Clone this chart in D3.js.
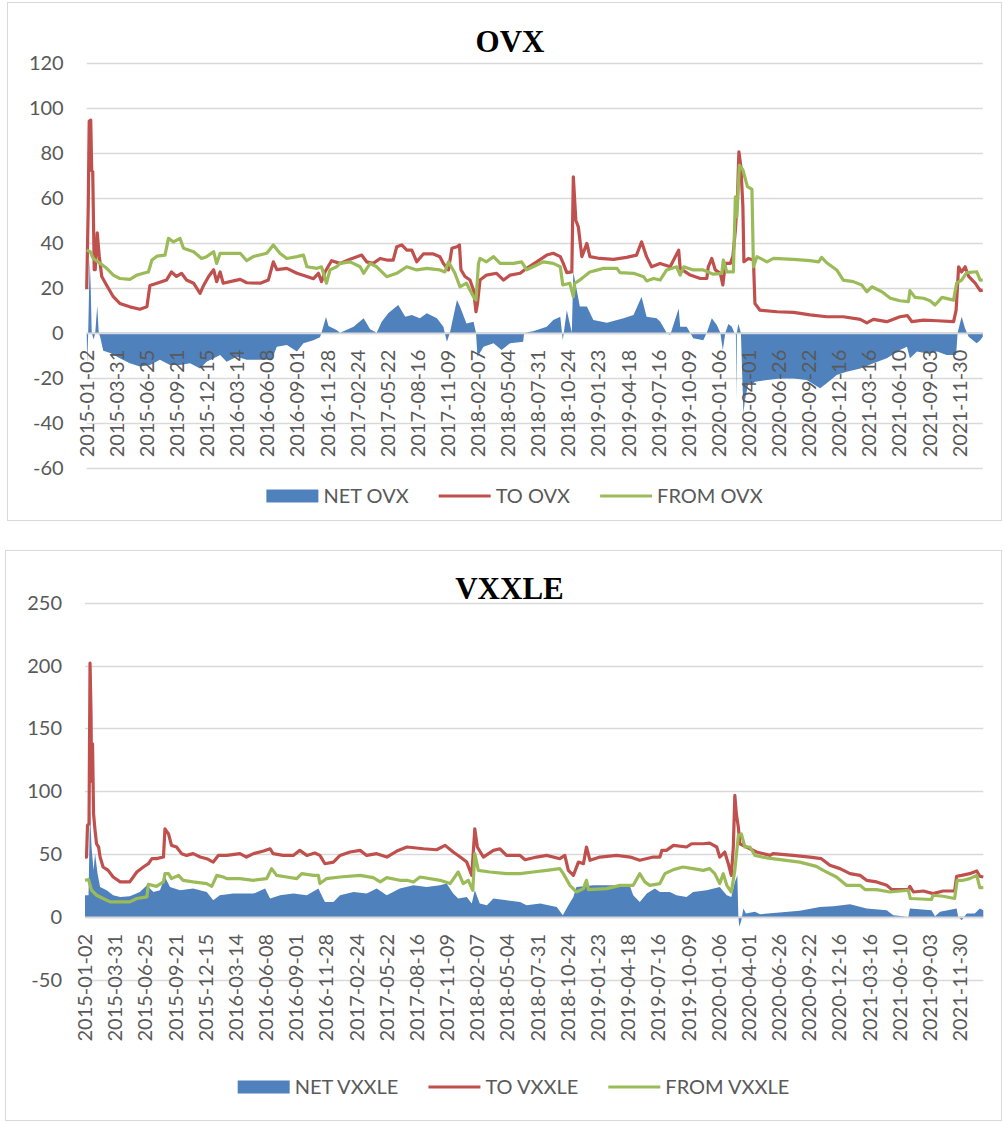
<!DOCTYPE html>
<html>
<head>
<meta charset="utf-8">
<script src="https://cdn.jsdelivr.net/npm/d3@7"></script>
<style>
  body { margin: 0; background: #fff; }
  svg { display: block; }
</style>
</head>
<body>
<svg id="chart" width="1003" height="1122"></svg>
<script>
// category labels on the x axis (one every 60 trading days)
var dateLabels = ["2015-01-02","2015-03-31","2015-06-25","2015-09-21","2015-12-15","2016-03-14",
  "2016-06-08","2016-09-01","2016-11-28","2017-02-24","2017-05-22","2017-08-16","2017-11-09",
  "2018-02-07","2018-05-04","2018-07-31","2018-10-24","2019-01-23","2019-04-18","2019-07-16",
  "2019-10-09","2020-01-06","2020-04-01","2020-06-26","2020-09-22","2020-12-16","2021-03-16",
  "2021-06-10","2021-09-03","2021-11-30"];
var labelStep = 60;
var lastDay = 1786;

var ovxTicks = [-60, -40, -20, 0, 20, 40, 60, 80, 100, 120];
var vxxTicks = [-50, 0, 50, 100, 150, 200, 250];

// [trading day index, value]
var ovxNet = [[0,0],[1,-14],[3,0],[6,33],[8,20],[10,0],[14,-3],[17,0],[21,12],[24,0],[27,-2],[33,-8],
  [47,-9],[66,-11.4],[86,-13.6],[106,-15],[126,-14.4],[146,-12],[166,-14.4],[186,-14.4],[206,-13.6],
  [226,-15.9],[239,-12.9],[266,-9.9],[279,-12.9],[299,-10.7],[319,-12],[346,-12],[369,-11.9],[379,-6.2],
  [399,-5.5],[419,-8.4],[432,-4.7],[452,-3.3],[465,-2],[468,0],[477,7],[482,3],[498,1.2],[505,0],
  [532,2.7],[552,6.4],[565,1.5],[578,0],[588,4.9],[601,8.6],[621,12.3],[635,7.1],[648,7.9],[664,6.4],
  [678,8.6],[698,6.4],[711,2.7],[718,-4],[724,0],[738,14.5],[744,11.6],[757,4.1],[771,4.9],[776,0],
  [779,-10.7],[791,-6.2],[811,-4.7],[827,-7.7],[844,-4.7],[870,-4],[872,0],[890,0.7],[917,2.7],[930,5.6],
  [944,7.1],[949,-3.3],[957,10],[967,0],[970,27],[983,11.6],[997,11.6],[1010,5.6],[1037,4.4],[1070,6.4],
  [1090,7.9],[1106,16],[1116,7.1],[1136,6.4],[1143,5],[1156,0],[1163,-1],[1180,10.8],[1183,2.7],
  [1196,2.7],[1203,0],[1209,-2.5],[1229,-3.3],[1236,0],[1246,6.4],[1256,3.4],[1263,0],[1268,-7.7],
  [1273,0],[1279,3.9],[1286,2.7],[1291,0],[1294,0],[1295,-30],[1296,0],[1299,4],[1304,0],[1309,-36],
  [1312,-30],[1319,-22.5],[1329,-22.5],[1332,-21.8],[1356,-21],[1382,-20.3],[1409,-20.3],[1435,-21],
  [1462,-24.7],[1475,-22.5],[1495,-18.8],[1515,-17.3],[1542,-15.9],[1568,-13.6],[1595,-11.4],
  [1621,-7.7],[1635,-6.2],[1641,-11.4],[1655,-8.4],[1675,-9.2],[1695,-8.4],[1714,-9.9],[1733,-9.9],
  [1736,0],[1744,7.1],[1751,1.9],[1758,-1.8],[1774,-4.7],[1781,-3.3],[1786,-1.8]];

var ovxTo = [[0,19.3],[3,55],[5,94],[8,94.5],[10,72],[12,71.6],[15,28],[17,28],[21,44.4],[25,34],
  [30,25],[40,21],[53,16],[66,13],[86,11.5],[106,10.4],[120,11.5],[126,21],[140,22],[159,23.4],
  [169,27],[179,25],[189,26.4],[199,23.4],[213,22],[226,17.5],[233,21],[243,25],[253,28],[259,22.7],
  [266,27],[272,22],[286,22.7],[306,23.7],[319,22.2],[346,22],[362,23.4],[372,31.5],[379,28],[399,28.6],
  [419,26.4],[439,25],[452,24],[462,26.4],[468,22.7],[475,27],[488,32],[505,30.8],[525,32.6],
  [548,34.5],[558,31.5],[571,30.8],[585,33],[598,32.3],[611,32.3],[618,38.2],[628,39],[638,36.7],
  [648,36.7],[658,31.5],[671,35],[691,35],[704,33.8],[711,30.8],[721,27.9],[728,37.5],[738,38.2],
  [743,39],[746,28],[754,25],[764,23.4],[771,19],[776,9.3],[779,13],[784,23.4],[797,25.6],[817,26.4],
  [831,23.4],[844,25.6],[864,26.4],[877,28.6],[897,31.5],[917,34.5],[930,35.3],[944,33.8],[950,30.8],
  [957,26.7],[967,27],[970,69.3],[975,50],[980,47],[987,33.8],[997,39.7],[1003,33.8],[1023,33],
  [1050,32.6],[1076,33.5],[1096,34.5],[1106,40.4],[1116,33.8],[1126,29.3],[1143,30.8],[1163,29.3],
  [1180,36.7],[1183,28.6],[1203,25.6],[1223,24.1],[1236,24.1],[1239,29.3],[1246,33],[1253,27.9],
  [1263,26.4],[1268,21.2],[1273,30.8],[1283,30.8],[1288,33.8],[1293,45.6],[1297,59],[1300,80.4],
  [1304,73.8],[1308,56],[1310,31.5],[1319,33],[1329,32.3],[1332,13],[1342,10],[1376,9.3],[1409,9],
  [1442,7.9],[1475,7.1],[1508,7.1],[1542,5.9],[1555,4.4],[1568,5.9],[1595,4.9],[1621,7.1],[1636,7.6],
  [1645,4.9],[1668,5.6],[1695,5.3],[1728,4.9],[1733,10],[1738,29.3],[1744,27],[1751,29.3],[1758,25],
  [1771,22],[1781,18.7],[1786,19]];

var ovxFrom = [[0,36.7],[7,36],[13,33],[27,30.8],[40,28.6],[53,25.6],[66,24.1],[86,23.7],[100,25.6],
  [113,26.4],[123,27],[130,32.3],[140,34],[156,34.5],[163,41.9],[173,40.4],[186,41.9],[193,37.5],
  [213,36],[229,33],[239,33.8],[253,36],[259,30.8],[266,35.3],[286,35.3],[306,35.3],[319,32],
  [332,33.8],[359,35.3],[372,39],[385,35.3],[399,33],[419,33.8],[432,34.5],[439,29.3],[459,28.6],
  [468,29.3],[478,22],[485,27.9],[498,29.3],[505,30.8],[525,31.5],[545,29.3],[552,26.4],[565,30.8],
  [578,29.3],[598,24.9],[618,26.4],[638,29.3],[658,27.9],[678,28.6],[704,27.9],[714,27],[721,31.5],
  [734,26.4],[744,20.4],[757,22],[771,16],[776,14.5],[781,30.8],[784,33],[797,31.5],[811,33.8],
  [824,30.8],[851,30.8],[867,31.5],[877,27.9],[890,29.3],[910,31.5],[930,30.8],[944,29.3],[949,21.2],
  [963,22],[970,16],[973,22],[983,23.4],[1003,27],[1030,28.6],[1057,28.6],[1063,26.7],[1090,26.4],
  [1110,24.9],[1116,23],[1130,24.1],[1143,23.4],[1156,27.9],[1176,29.3],[1183,25.6],[1190,29.3],
  [1209,27.9],[1229,27.9],[1249,26],[1266,26.4],[1269,32.3],[1276,27],[1289,27],[1293,60.4],
  [1296,51.6],[1301,74.5],[1308,72.3],[1317,64.9],[1326,63.7],[1329,29.3],[1336,33.8],[1356,31.5],
  [1369,33],[1409,32.6],[1442,32],[1459,31.5],[1465,33.5],[1475,31.1],[1495,27.9],[1508,23.4],
  [1528,22.7],[1545,21.2],[1555,18.2],[1565,20.4],[1585,18.2],[1602,15.3],[1621,14.2],[1638,13.8],
  [1641,18.7],[1651,15.7],[1668,15.3],[1681,14.2],[1691,12.3],[1705,15.7],[1728,14.5],[1734,22],
  [1744,23.4],[1754,26.7],[1774,27.1],[1781,23.4],[1786,23.4]];

var vxxNet = [[0,17.2],[7,17.2],[10,84.7],[13,55.6],[17,37],[20,50.3],[25,34.4],[30,23.8],[43,21.2],
  [56,17.2],[70,15.9],[89,16.4],[109,19.8],[123,25.1],[136,19.8],[149,21.2],[159,31.7],[169,23.8],
  [189,21.2],[215,22.5],[242,19.8],[255,13.2],[268,17.2],[295,18.5],[335,18.5],[358,22.5],[368,14.6],
  [388,17.2],[414,18.5],[441,17.2],[464,22.5],[477,11.9],[494,11.9],[507,17.2],[534,19.8],[560,18.5],
  [580,22.5],[600,17.2],[626,22.5],[653,25.1],[679,23.8],[706,25.1],[719,26.5],[732,18.5],[742,14.6],
  [759,15.9],[769,10.6],[775,21.2],[785,10.6],[799,9.3],[812,14.6],[838,13.2],[865,11.9],[878,9.3],
  [905,10.6],[938,7.9],[950,1.3],[961,9.3],[971,15.9],[977,23.8],[1011,25.1],[1050,25.1],[1084,23.8],
  [1090,17.2],[1103,11.9],[1117,18.5],[1133,22.5],[1143,19.8],[1163,19.8],[1176,17.2],[1196,15.9],
  [1209,19.8],[1236,21.2],[1262,23.8],[1276,17.2],[1285,15.9],[1292,27.8],[1297,33],[1299,0],
  [1301,-7.9],[1305,-2.6],[1309,6.6],[1314,2.6],[1332,4],[1342,2.1],[1375,3.2],[1421,4.8],[1461,7.9],
  [1488,8.5],[1521,10],[1554,6.6],[1594,5.3],[1607,1.3],[1637,0],[1640,6.6],[1683,5.3],[1690,0.5],
  [1700,4],[1733,6.6],[1736,0],[1743,-2.6],[1753,2.6],[1769,2.6],[1779,6.6],[1786,5.3]];

var vxxTo = [[0,47.6],[3,47.6],[5,72.8],[8,74],[10,202],[12,161],[13,108],[15,137.6],[17,82],[20,68.8],
  [23,58],[27,55.6],[30,47.6],[36,39.7],[46,37],[56,31.7],[70,27.8],[89,27.8],[103,35.7],[116,39.7],
  [126,42.3],[133,46.3],[142,46.3],[156,47.6],[159,70],[166,66],[172,56.9],[182,55.6],[192,50.3],
  [202,48.9],[215,50.3],[229,47.6],[242,46.3],[255,43.6],[265,48.9],[282,48.9],[308,50.3],[321,47.6],
  [335,50.3],[355,52.4],[368,54.2],[374,50.3],[394,48.9],[414,48.9],[427,52.9],[441,48.9],[457,50.8],
  [467,48.9],[477,42.3],[494,43.6],[507,48.9],[527,51.6],[547,52.9],[560,48.9],[580,50.3],[600,47.6],
  [620,52.4],[640,55.6],[673,54.2],[699,53.4],[716,56.9],[732,51.6],[746,47.6],[759,43.6],[769,33],
  [775,70],[780,55.6],[792,47.6],[812,52.9],[825,54.2],[838,48.9],[865,48.9],[875,45.5],[898,47.6],
  [918,48.9],[944,46.3],[954,48.9],[961,37],[971,33],[981,43.6],[991,42.3],[997,55.6],[1004,45],
  [1024,47.6],[1057,48.9],[1084,47.6],[1103,45],[1130,47.6],[1143,47.6],[1147,53],[1156,52.9],
  [1170,56.9],[1196,55.6],[1206,58.2],[1229,58.2],[1242,58.7],[1256,55.6],[1262,47.6],[1272,51.6],
  [1279,42.3],[1285,33],[1289,55.6],[1292,96.6],[1295,82],[1299,71.4],[1302,58.2],[1315,55.6],
  [1335,51.6],[1362,48.9],[1368,50.3],[1408,48.9],[1441,47.6],[1464,46.3],[1481,41],[1501,38.4],
  [1521,34.4],[1541,33],[1554,29.1],[1574,27.8],[1594,25.1],[1604,21.7],[1637,21.7],[1640,24.3],
  [1647,19.8],[1667,20.6],[1686,18.5],[1706,20.6],[1729,20.6],[1733,32.3],[1743,33],[1759,34.4],
  [1773,36.5],[1779,32.3],[1786,31.7]];

var vxxFrom = [[0,29.1],[7,29.6],[13,21.2],[23,17.2],[36,14.6],[50,11.9],[70,11.9],[89,11.9],[103,14.6],
  [123,15.9],[126,25.9],[142,24.3],[156,27.8],[159,34.4],[166,34.4],[172,30.4],[186,33],[195,29.1],
  [215,27.8],[242,26.5],[252,24.3],[262,33],[275,31.7],[282,30.4],[308,30.4],[335,29.1],[361,30.4],
  [371,38.4],[381,33],[401,31.7],[421,30.4],[431,34.4],[454,33],[464,33],[467,26.5],[480,30.4],
  [507,31.7],[547,33],[573,31.2],[587,27.8],[600,31.2],[626,29.1],[640,29.1],[653,27.8],[666,31.7],
  [706,29.1],[726,26.5],[742,35.7],[752,26.5],[762,29.1],[771,21.2],[775,50.3],[782,37],[805,35.7],
  [838,34.4],[865,34.4],[891,35.7],[918,37],[944,38.4],[951,34.4],[964,25.1],[977,19.8],[991,22.5],
  [997,29.1],[1001,21.7],[1037,22.5],[1064,25.1],[1090,25.1],[1103,34.4],[1113,27.8],[1123,25.1],
  [1143,26.5],[1153,34.4],[1170,37.6],[1189,39.7],[1209,38.4],[1229,37],[1242,38.4],[1252,34.4],
  [1262,26.5],[1269,34.4],[1276,25.1],[1285,19.8],[1292,37],[1299,64.8],[1305,66.1],[1312,55.6],
  [1322,55.6],[1332,48.9],[1355,47],[1382,45.5],[1421,43.6],[1454,40.2],[1468,37],[1494,31.7],
  [1514,25.1],[1541,25.1],[1551,21.7],[1574,21.7],[1600,19.8],[1637,21.2],[1641,14.6],[1683,13.8],
  [1686,17.2],[1706,16.4],[1729,14.6],[1734,29.1],[1746,29.1],[1759,30.4],[1773,33],[1779,23.3],
  [1786,23.3]];

var netColor = "#4f81bd", toColor = "#c0504d", fromColor = "#9bbb59";
var textColor = "#595959", gridColor = "#d9d9d9";

var svg = d3.select("#chart");

function drawPanel(p) {
  var g = svg.append("g");

  // chart frame
  g.append("rect")
    .attr("x", p.box[0] + 0.5).attr("y", p.box[1] + 0.5)
    .attr("width", p.box[2]).attr("height", p.box[3])
    .attr("fill", "none").attr("stroke", gridColor).attr("stroke-width", 1);

  var x = d3.scaleLinear().domain([0, lastDay]).range([p.left, p.right]);
  var y = d3.scaleLinear().domain([p.ticks[0], p.ticks[p.ticks.length - 1]]).range([p.bottom, p.top]);

  // gridlines
  g.selectAll(".grid").data(p.ticks).enter().append("line")
    .attr("x1", p.left).attr("x2", p.right)
    .attr("y1", function(d){ return Math.round(y(d)) + 0.5; })
    .attr("y2", function(d){ return Math.round(y(d)) + 0.5; })
    .attr("stroke", gridColor).attr("stroke-width", 1.3);

  // y tick labels
  g.selectAll(".ytick").data(p.ticks).enter().append("text")
    .attr("x", p.left - 23)
    .attr("y", function(d){ return y(d); })
    .attr("dy", "0.35em")
    .attr("text-anchor", "end")
    .style("font-family", "Lato, 'Open Sans', sans-serif")
    .style("font-size", "20px")
    .attr("fill", textColor)
    .text(function(d){ return d; });

  // net area
  var area = d3.area()
    .x(function(d){ return x(d[0]); })
    .y0(y(0))
    .y1(function(d){ return y(d[1]); });
  g.append("path").datum(p.net)
    .attr("d", area)
    .attr("fill", netColor);

  // zero axis line on top of area
  g.append("line")
    .attr("x1", p.left).attr("x2", p.right)
    .attr("y1", Math.round(y(0)) + 0.5).attr("y2", Math.round(y(0)) + 0.5)
    .attr("stroke", gridColor).attr("stroke-width", 1.3);

  var line = d3.line()
    .x(function(d){ return x(d[0]); })
    .y(function(d){ return y(d[1]); });
  g.append("path").datum(p.to)
    .attr("d", line).attr("fill", "none")
    .attr("stroke", toColor).attr("stroke-width", 3.2).attr("stroke-linejoin", "round");
  g.append("path").datum(p.from)
    .attr("d", line).attr("fill", "none")
    .attr("stroke", fromColor).attr("stroke-width", 3.2).attr("stroke-linejoin", "round");

  // x category labels (rotated)
  g.selectAll(".xlab").data(dateLabels).enter().append("text")
    .attr("transform", function(d, i){
      return "translate(" + x(i * labelStep) + "," + (y(0) + 17) + ") rotate(-90)";
    })
    .attr("dy", "0.35em")
    .attr("text-anchor", "end")
    .style("font-family", "Lato, 'Open Sans', sans-serif")
    .style("font-size", "20px")
    .attr("fill", textColor)
    .text(function(d){ return d; });

  // title
  g.append("text")
    .attr("x", p.titleX).attr("y", p.titleY)
    .attr("text-anchor", "middle")
    .style("font-family", "'Liberation Serif', 'Times New Roman', serif")
    .style("font-weight", "bold")
    .style("font-size", "31px")
    .attr("fill", "#000")
    .text(p.title);

  // legend
  var items = [
    {name: "NET " + p.title, color: netColor, type: "box"},
    {name: "TO " + p.title, color: toColor, type: "line"},
    {name: "FROM " + p.title, color: fromColor, type: "line"}
  ];
  var lg = g.append("g");
  var cx = 0;
  items.forEach(function(it){
    if (it.type === "box") {
      lg.append("rect").attr("x", cx).attr("y", -6.5).attr("width", 52).attr("height", 13)
        .attr("fill", it.color);
    } else {
      lg.append("line").attr("x1", cx).attr("x2", cx + 52).attr("y1", 0).attr("y2", 0)
        .attr("stroke", it.color).attr("stroke-width", 3.2);
    }
    var t = lg.append("text")
      .attr("x", cx + 57).attr("y", 0).attr("dy", "0.35em")
      .style("font-family", "Lato, 'Open Sans', sans-serif")
      .style("font-size", "20px")
      .attr("fill", textColor)
      .text(it.name);
    cx += 57 + t.node().getComputedTextLength() + 30;
  });
  var total = cx - 30;
  lg.attr("transform", "translate(" + (p.legendX - total / 2) + "," + p.legendY + ")");
}

drawPanel({
  title: "OVX", box: [7, 2, 994, 518],
  left: 86.7, right: 982.7, top: 62.7, bottom: 467.7,
  ticks: ovxTicks, net: ovxNet, to: ovxTo, from: ovxFrom,
  titleX: 510, titleY: 52, legendX: 514.5, legendY: 496
});

drawPanel({
  title: "VXXLE", box: [5, 550, 996, 570],
  left: 85, right: 983.3, top: 602.7, bottom: 979.7,
  ticks: vxxTicks, net: vxxNet, to: vxxTo, from: vxxFrom,
  titleX: 509.5, titleY: 599, legendX: 513.5, legendY: 1087
});
</script>
</body>
</html>
